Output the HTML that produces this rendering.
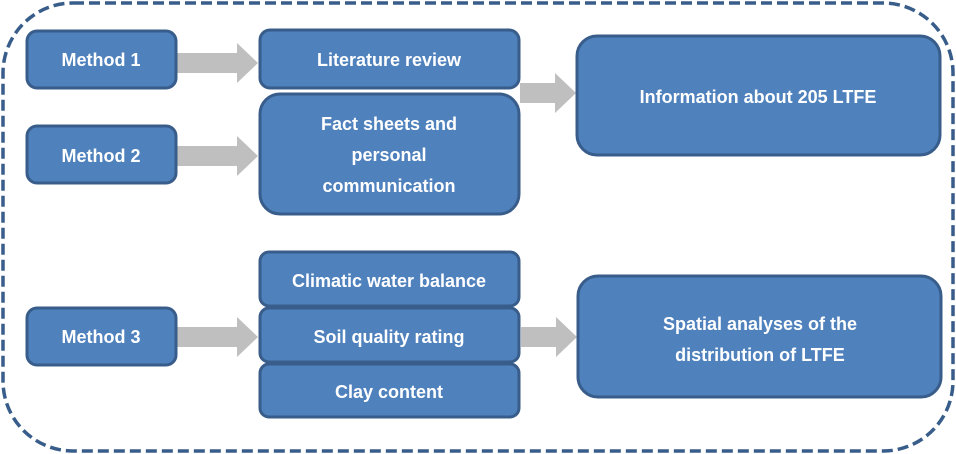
<!DOCTYPE html>
<html><head><meta charset="utf-8"><style>body{margin:0;background:#fff}svg{display:block}text{font-family:"Liberation Sans",sans-serif;font-weight:bold;font-size:18px;fill:#fff;text-anchor:middle}</style></head><body>
<svg width="956" height="454" viewBox="0 0 956 454">
<rect x="3" y="3" width="950" height="448" rx="70" fill="none" stroke="#385d8a" stroke-width="3.5" stroke-dasharray="11,5"/>
<g fill="#bfbfbf">
<polygon points="177,53 237,53 237,43 258,63 237,83 237,73 177,73"/>
<polygon points="177,146 237,146 237,136 258,156 237,176 237,166 177,166"/>
<polygon points="177,327 237,327 237,317 258,337 237,357 237,347 177,347"/>
<polygon points="520,83 555,83 555,73 576,93 555,113 555,103 520,103"/>
<polygon points="521,327 556,327 556,317 577,337 556,357 556,347 521,347"/>
</g>
<g fill="#4f81bd" stroke="#385d8a" stroke-width="3">
<rect x="27" y="31" width="149" height="57" rx="10"/>
<rect x="27" y="126" width="149" height="57" rx="10"/>
<rect x="27" y="308" width="149" height="57" rx="10"/>
<rect x="260" y="30" width="259" height="58" rx="10"/>
<rect x="260" y="94" width="259" height="120" rx="20"/>
<rect x="577" y="36" width="363" height="119" rx="20"/>
<rect x="260" y="252" width="259" height="54" rx="9"/>
<rect x="260" y="308" width="259" height="54" rx="9"/>
<rect x="260" y="364" width="259" height="53" rx="9"/>
<rect x="578" y="276" width="363" height="121" rx="20"/>
</g>
<text x="101" y="66">Method 1</text>
<text x="101" y="162">Method 2</text>
<text x="101" y="343">Method 3</text>
<text x="389" y="66">Literature review</text>
<text x="389" y="130">Fact sheets and</text>
<text x="389" y="161">personal</text>
<text x="389" y="192">communication</text>
<text x="758" y="103">Information about 205 LTFE</text>
<text x="389" y="287">Climatic water balance</text>
<text x="389" y="343">Soil quality rating</text>
<text x="389" y="398">Clay content</text>
<text x="760" y="330">Spatial analyses of the</text>
<text x="760" y="361">distribution of LTFE</text>
</svg>
</body></html>
